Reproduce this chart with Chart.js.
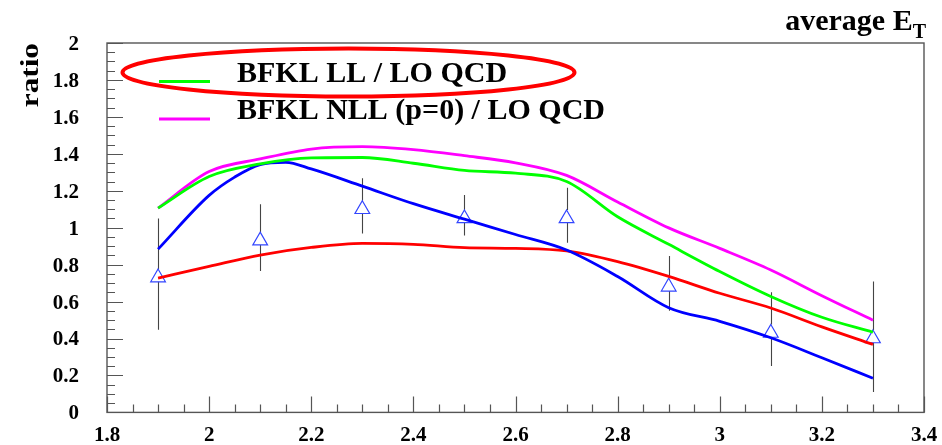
<!DOCTYPE html>
<html>
<head>
<meta charset="utf-8">
<script src="https://cdn.jsdelivr.net/npm/chart.js@4/dist/chart.umd.min.js"></script>
<style>
    html, body { margin: 0; padding: 0; background: #fff; }
    #wrap { width: 942px; height: 445px; }
</style>
</head>
<body>
<div id="wrap"><canvas id="ratio-chart" width="942" height="445"></canvas></div>
<script>
// Data
const etGrid = [1.9, 2.0, 2.1, 2.2, 2.3, 2.4, 2.5, 2.6, 2.7, 2.8, 2.9, 3.0, 3.1, 3.2, 3.3];
const bfklLL = [1.106, 1.277, 1.345, 1.378, 1.38, 1.349, 1.31, 1.295, 1.25, 1.059, 0.91, 0.763, 0.628, 0.515, 0.434];
const bfklNLL = [1.106, 1.304, 1.372, 1.426, 1.439, 1.423, 1.39, 1.351, 1.283, 1.139, 0.999, 0.888, 0.771, 0.632, 0.499];
const redCurve = [0.727, 0.79, 0.852, 0.893, 0.915, 0.91, 0.892, 0.888, 0.874, 0.816, 0.736, 0.645, 0.565, 0.463, 0.368];

const blueEt = [1.9, 2.0, 2.05, 2.1, 2.15, 2.2, 2.3, 2.4, 2.5, 2.6, 2.7, 2.8, 2.9, 3.0, 3.1, 3.2, 3.3];
const blueCurve = [0.884, 1.175, 1.274, 1.342, 1.354, 1.318, 1.225, 1.13, 1.046, 0.963, 0.879, 0.736, 0.567, 0.493, 0.404, 0.296, 0.185];

const dataEt = [1.9, 2.1, 2.3, 2.5, 2.7, 2.9, 3.1, 3.3];
const dataRatio = [0.73, 0.93, 1.10, 1.05, 1.05, 0.68, 0.43, 0.40];
const errLow = [0.448, 0.766, 0.969, 0.958, 0.919, 0.551, 0.251, 0.111];
const errHigh = [1.05, 1.127, 1.268, 1.177, 1.216, 0.847, 0.65, 0.709];

const xTicks = [1.8, 2, 2.2, 2.4, 2.6, 2.8, 3, 3.2, 3.4];
const yTicks = [0, 0.2, 0.4, 0.6, 0.8, 1, 1.2, 1.4, 1.6, 1.8, 2];

const legendLabels = ['BFKL LL / LO QCD', 'BFKL NLL (p=0) / LO QCD'];

const serif = '"Liberation Serif", "DejaVu Serif", serif';
const markerRadius = 8.5;

function toPoints(xs, ys) {
    return xs.map((x, i) => ({ x: x, y: ys[i] }));
}

function lineSet(label, xs, ys, color) {
    return {
        label: label,
        data: toPoints(xs, ys),
        showLine: true,
        borderColor: color,
        borderWidth: 2.8,
        pointRadius: 0,
        cubicInterpolationMode: 'monotone',
        fill: false
    };
}

// error bars, axes frame, ROOT style inward ticks, titles, legend
const rootStyle = {
    id: 'rootStyle',
    beforeDatasetsDraw(chart) {
        const ctx = chart.ctx;
        const xs = chart.scales.x, ys = chart.scales.y;
        ctx.save();
        ctx.strokeStyle = '#444';
        ctx.lineWidth = 1.1;
        dataEt.forEach((et, i) => {
            const px = Math.round(xs.getPixelForValue(et)) + 0.5;
            const mid = ys.getPixelForValue(dataRatio[i]);
            const top = ys.getPixelForValue(errHigh[i]);
            const bot = ys.getPixelForValue(errLow[i]);
            ctx.beginPath();
            if (top < mid - markerRadius) {
                ctx.moveTo(px, top);
                ctx.lineTo(px, mid - markerRadius);
            }
            if (bot > mid + markerRadius / 2) {
                ctx.moveTo(px, mid + markerRadius / 2);
                ctx.lineTo(px, bot);
            }
            ctx.stroke();
        });
        ctx.restore();
    },
    afterDraw(chart) {
        const ctx = chart.ctx;
        const a = chart.chartArea;
        const xs = chart.scales.x, ys = chart.scales.y;

        ctx.save();
        // frame
        ctx.strokeStyle = '#555';
        ctx.lineWidth = 1.4;
        ctx.strokeRect(a.left, a.top, a.right - a.left, a.bottom - a.top);

        // ticks (major every 0.2, minor every 0.05)
        ctx.lineWidth = 1.2;
        ctx.beginPath();
        for (let k = 0; k <= 32; k++) {
            const px = Math.round(xs.getPixelForValue(1.8 + k * 0.05)) + 0.5;
            const len = k % 4 === 0 ? 16 : 8;
            ctx.moveTo(px, a.bottom);
            ctx.lineTo(px, a.bottom - len);
        }
        for (let k = 0; k <= 40; k++) {
            const py = Math.round(ys.getPixelForValue(k * 0.05)) + 0.5;
            const len = k % 4 === 0 ? 16 : 8;
            ctx.moveTo(a.left, py);
            ctx.lineTo(a.left + len, py);
        }
        ctx.stroke();

        // y title
        ctx.fillStyle = '#000';
        ctx.save();
        ctx.translate(38, a.top);
        ctx.rotate(-Math.PI / 2);
        ctx.scale(1.25, 1);
        ctx.font = 'bold 25px ' + serif;
        ctx.textAlign = 'right';
        ctx.textBaseline = 'alphabetic';
        ctx.fillText('ratio', 0, 0);
        ctx.restore();

        // x title: average E_T (right aligned at the frame edge)
        ctx.font = 'bold 20px ' + serif;
        const wT = ctx.measureText('T').width;
        ctx.font = 'bold 30px ' + serif;
        const wMain = ctx.measureText('average E').width;
        const xEnd = a.right + 2;
        ctx.textAlign = 'left';
        ctx.textBaseline = 'alphabetic';
        ctx.fillText('average E', xEnd - wT - wMain, 30);
        ctx.font = 'bold 20px ' + serif;
        ctx.fillText('T', xEnd - wT, 38);

        // legend
        const legendColors = ['#00ff00', '#ff00ff'];
        const legendY = [81.5, 119];
        ctx.font = 'bold 30px ' + serif;
        legendLabels.forEach((txt, i) => {
            ctx.strokeStyle = legendColors[i];
            ctx.lineWidth = 2.8;
            ctx.beginPath();
            ctx.moveTo(159, legendY[i]);
            ctx.lineTo(210, legendY[i]);
            ctx.stroke();
            ctx.fillStyle = '#000';
            ctx.fillText(txt, 237, legendY[i]);
        });

        // red ellipse around the first legend entry
        ctx.strokeStyle = '#ff0000';
        ctx.lineWidth = 4;
        ctx.beginPath();
        ctx.ellipse(348.5, 72.5, 226, 24, 0, 0, Math.PI * 2);
        ctx.stroke();
        ctx.restore();
    }
};

const tickFont = { family: serif, size: 21, weight: 'bold' };

const ratioChart = new Chart(document.getElementById('ratio-chart'), {
    type: 'scatter',
    data: {
        datasets: [
            lineSet(legendLabels[0], etGrid, bfklLL, '#00ff00'),
            lineSet(legendLabels[1], etGrid, bfklNLL, '#ff00ff'),
            lineSet('BFKL NLL', blueEt, blueCurve, '#0000ff'),
            lineSet('red', etGrid, redCurve, '#ff0000'),
            {
                label: 'data',
                data: toPoints(dataEt, dataRatio),
                showLine: false,
                pointStyle: 'triangle',
                pointRadius: markerRadius,
                pointBorderWidth: 1.2,
                borderColor: '#3346ff',
                backgroundColor: 'rgba(0,0,0,0)'
            }
        ]
    },
    options: {
        responsive: false,
        animation: false,
        layout: { padding: { left: 0, right: 18, top: 43, bottom: 0 } },
        plugins: {
            legend: { display: false },
            tooltip: { enabled: false }
        },
        scales: {
            x: {
                type: 'linear',
                position: 'bottom',
                min: 1.8,
                max: 3.4,
                afterBuildTicks: s => { s.ticks = xTicks.map(v => ({ value: v })); },
                afterFit: s => { s.height = 30; },
                grid: { display: false },
                border: { display: false },
                ticks: {
                    autoSkip: false,
                    maxRotation: 0,
                    padding: 3,
                    color: '#000',
                    font: tickFont,
                    callback: v => String(v)
                }
            },
            y: {
                type: 'linear',
                min: 0,
                max: 2,
                afterBuildTicks: s => { s.ticks = yTicks.map(v => ({ value: v })); },
                afterFit: s => { s.width = 107; },
                grid: { display: false },
                border: { display: false },
                ticks: {
                    autoSkip: false,
                    padding: 20,
                    labelOffset: 1.5,
                    color: '#000',
                    font: tickFont,
                    callback: v => String(v)
                }
            }
        }
    },
    plugins: [rootStyle]
});
</script>
</body>
</html>
